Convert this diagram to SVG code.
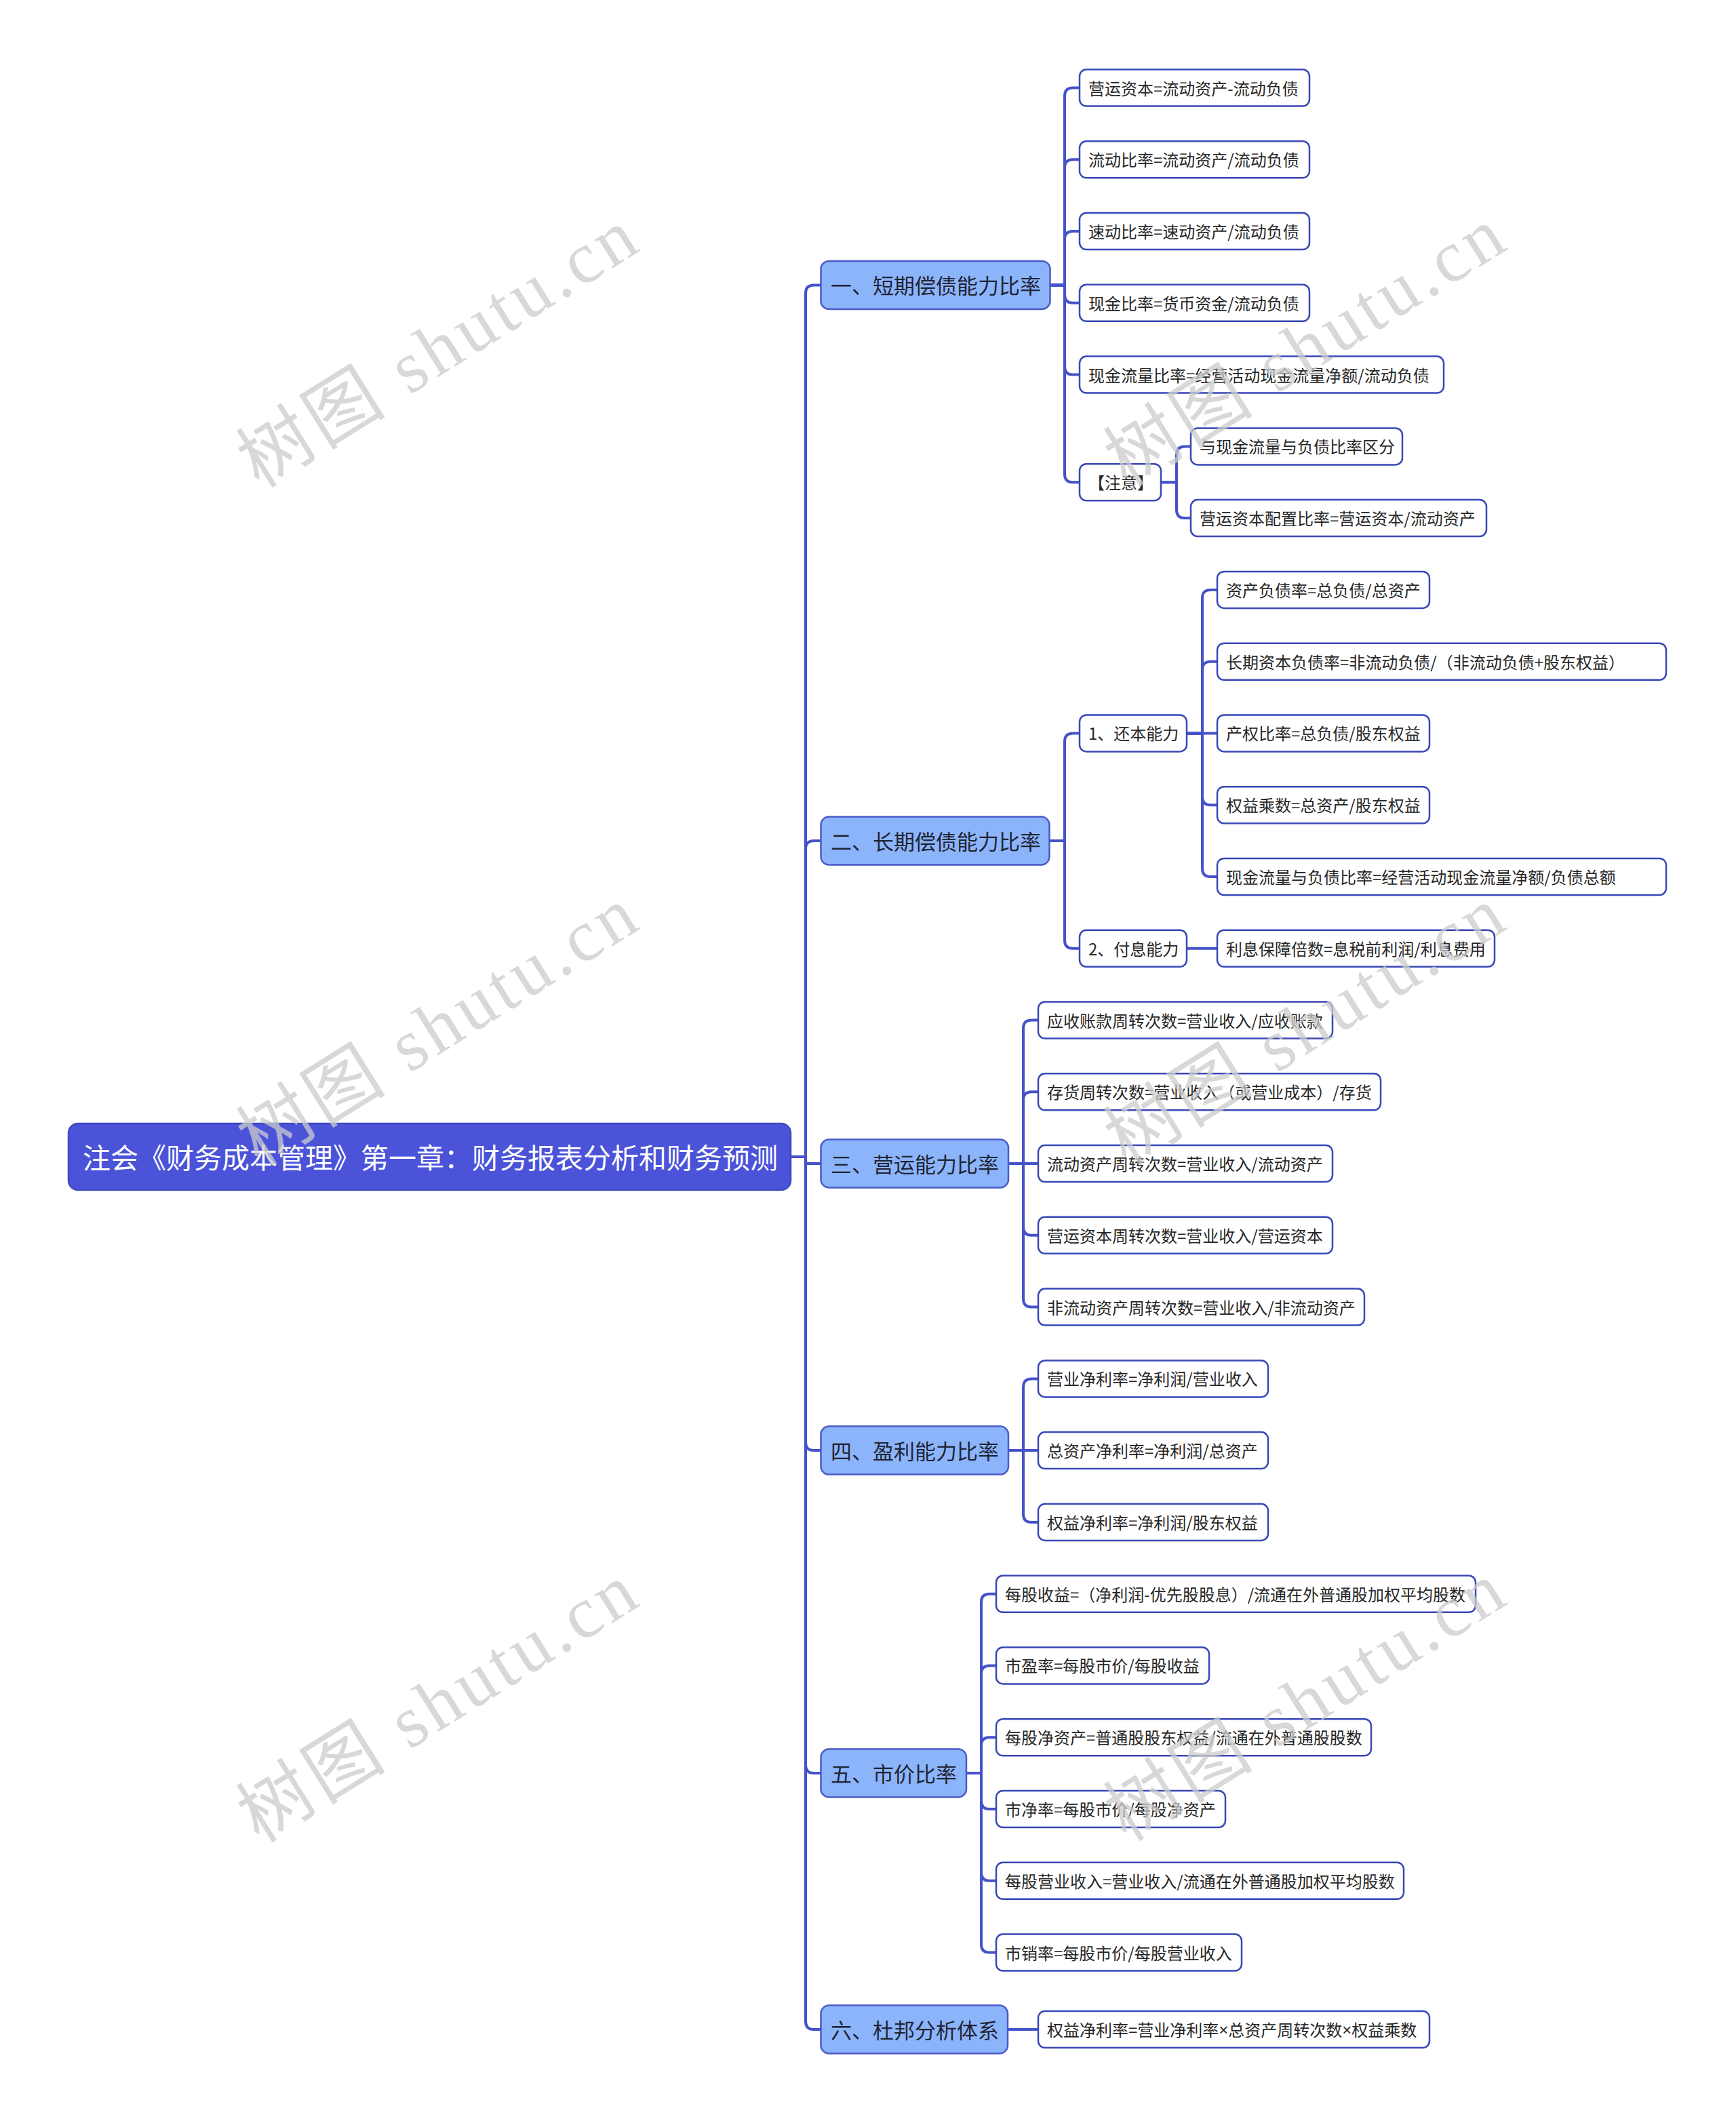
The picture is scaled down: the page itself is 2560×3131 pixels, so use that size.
<svg xmlns="http://www.w3.org/2000/svg" width="2560" height="3131" viewBox="0 0 2560 3131">
<style>
.bg{fill:#ffffff}
.ln{fill:none;stroke:#4652c9;stroke-width:4;stroke-linecap:round;stroke-linejoin:round}
.leaf rect{fill:#ffffff;stroke:#3a48b8;stroke-width:2.5}
.leaf text{font-family:"Noto Sans CJK SC","Liberation Sans",sans-serif;font-size:24px;fill:#262626;dominant-baseline:central}
.l1 rect{fill:#8cb4fb;stroke:#4a5ac8;stroke-width:2.5}
.l1 text{font-family:"Noto Sans CJK SC","Liberation Sans",sans-serif;font-size:31px;fill:#1e2433;dominant-baseline:central}
.root rect{fill:#4b54d9;stroke:#3f48c0;stroke-width:2.5}
.root text{font-family:"Noto Sans CJK SC","Liberation Sans",sans-serif;font-size:41px;fill:#ffffff;dominant-baseline:central}
.lat{font-family:"Liberation Sans",sans-serif}
.wm{font-family:"Liberation Serif","Noto Sans CJK SC",serif;font-size:108px;fill:#cccccc;opacity:0.75;text-anchor:middle;dominant-baseline:central}
</style>
<rect class="bg" x="0" y="0" width="2560" height="3131"/>
<g id="connectors">
<path class="ln" d="M1166,1706 H1188 V432.4 Q1188,420.4 1200,420.4 H1210"/>
<path class="ln" d="M1166,1706 H1188 V1252 Q1188,1240 1200,1240 H1210"/>
<path class="ln" d="M1166,1706 H1188 V1716 H1210"/>
<path class="ln" d="M1166,1706 H1188 V2127.1 Q1188,2139.1 1200,2139.1 H1210"/>
<path class="ln" d="M1166,1706 H1188 V2603 Q1188,2615 1200,2615 H1210"/>
<path class="ln" d="M1166,1706 H1188 V2981 Q1188,2993 1200,2993 H1210"/>
<path class="ln" d="M1548,420.4 H1570 V141.5 Q1570,129.5 1582,129.5 H1592"/>
<path class="ln" d="M1548,420.4 H1570 V247.3 Q1570,235.3 1582,235.3 H1592"/>
<path class="ln" d="M1548,420.4 H1570 V353 Q1570,341 1582,341 H1592"/>
<path class="ln" d="M1548,420.4 H1570 V434.8 Q1570,446.8 1582,446.8 H1592"/>
<path class="ln" d="M1548,420.4 H1570 V540.6 Q1570,552.6 1582,552.6 H1592"/>
<path class="ln" d="M1548,420.4 H1570 V699.3 Q1570,711.3 1582,711.3 H1592"/>
<path class="ln" d="M1712,711.3 H1735 V670.4 Q1735,658.4 1747,658.4 H1756"/>
<path class="ln" d="M1712,711.3 H1735 V752.1 Q1735,764.1 1747,764.1 H1756"/>
<path class="ln" d="M1547,1240 H1570 V1093.4 Q1570,1081.4 1582,1081.4 H1592"/>
<path class="ln" d="M1547,1240 H1570 V1386.7 Q1570,1398.7 1582,1398.7 H1592"/>
<path class="ln" d="M1750,1081.4 H1773 V881.9 Q1773,869.9 1785,869.9 H1795"/>
<path class="ln" d="M1750,1081.4 H1773 V987.7 Q1773,975.7 1785,975.7 H1795"/>
<path class="ln" d="M1750,1081.4 H1795"/>
<path class="ln" d="M1750,1081.4 H1773 V1175.2 Q1773,1187.2 1785,1187.2 H1795"/>
<path class="ln" d="M1750,1081.4 H1773 V1281 Q1773,1293 1785,1293 H1795"/>
<path class="ln" d="M1750,1398.7 H1795"/>
<path class="ln" d="M1487,1716 H1509 V1516.5 Q1509,1504.5 1521,1504.5 H1531"/>
<path class="ln" d="M1487,1716 H1509 V1622.3 Q1509,1610.3 1521,1610.3 H1531"/>
<path class="ln" d="M1487,1716 H1531"/>
<path class="ln" d="M1487,1716 H1509 V1809.8 Q1509,1821.8 1521,1821.8 H1531"/>
<path class="ln" d="M1487,1716 H1509 V1915.6 Q1509,1927.6 1521,1927.6 H1531"/>
<path class="ln" d="M1487,2139.1 H1509 V2045.4 Q1509,2033.4 1521,2033.4 H1531"/>
<path class="ln" d="M1487,2139.1 H1531"/>
<path class="ln" d="M1487,2139.1 H1509 V2232.9 Q1509,2244.9 1521,2244.9 H1531"/>
<path class="ln" d="M1425,2615 H1447 V2362.7 Q1447,2350.7 1459,2350.7 H1469"/>
<path class="ln" d="M1425,2615 H1447 V2468.4 Q1447,2456.4 1459,2456.4 H1469"/>
<path class="ln" d="M1425,2615 H1447 V2574.2 Q1447,2562.2 1459,2562.2 H1469"/>
<path class="ln" d="M1425,2615 H1447 V2656 Q1447,2668 1459,2668 H1469"/>
<path class="ln" d="M1425,2615 H1447 V2761.8 Q1447,2773.8 1459,2773.8 H1469"/>
<path class="ln" d="M1425,2615 H1447 V2867.5 Q1447,2879.5 1459,2879.5 H1469"/>
<path class="ln" d="M1486,2993 H1531"/>
</g>
<g id="root" class="root"><rect x="101" y="1657" width="1065" height="98" rx="14"/><text x="122" y="1705">注会《财务成本管理》第一章：财务报表分析和财务预测</text></g>
<g id="n1" class="l1"><rect x="1210.5" y="384.9" width="338" height="71" rx="12"/><text x="1225" y="419.4">一、短期偿债能力比率</text></g>
<g id="n2" class="l1"><rect x="1210.5" y="1204.5" width="337" height="71" rx="12"/><text x="1225" y="1239">二、长期偿债能力比率</text></g>
<g id="n3" class="l1"><rect x="1210.5" y="1680.5" width="276.5" height="71" rx="12"/><text x="1225" y="1715">三、营运能力比率</text></g>
<g id="n4" class="l1"><rect x="1210.5" y="2103.6" width="276.5" height="71" rx="12"/><text x="1225" y="2138.1">四、盈利能力比率</text></g>
<g id="n5" class="l1"><rect x="1210.5" y="2579.5" width="214.5" height="71" rx="12"/><text x="1225" y="2614">五、市价比率</text></g>
<g id="n6" class="l1"><rect x="1210.5" y="2957.5" width="275.5" height="71" rx="12"/><text x="1225" y="2992">六、杜邦分析体系</text></g>
<g id="r0" class="leaf"><rect x="1592" y="102.5" width="339" height="54" rx="10"/><text x="1605" y="129">营运资本=流动资产-流动负债</text></g>
<g id="r1" class="leaf"><rect x="1592" y="208.3" width="339" height="54" rx="10"/><text x="1605" y="234.8">流动比率=流动资产/流动负债</text></g>
<g id="r2" class="leaf"><rect x="1592" y="314" width="339" height="54" rx="10"/><text x="1605" y="340.5">速动比率=速动资产/流动负债</text></g>
<g id="r3" class="leaf"><rect x="1592" y="419.8" width="339" height="54" rx="10"/><text x="1605" y="446.3">现金比率=货币资金/流动负债</text></g>
<g id="r4" class="leaf"><rect x="1592" y="525.6" width="537" height="54" rx="10"/><text x="1605" y="552.1">现金流量比率=经营活动现金流量净额/流动负债</text></g>
<g id="note" class="leaf"><rect x="1592" y="684.3" width="120" height="54" rx="10"/><text x="1605" y="710.8">【注意】</text></g>
<g id="r5" class="leaf"><rect x="1756" y="631.4" width="312" height="54" rx="10"/><text x="1769" y="657.9">与现金流量与负债比率区分</text></g>
<g id="r6" class="leaf"><rect x="1756" y="737.1" width="436" height="54" rx="10"/><text x="1769" y="763.6">营运资本配置比率=营运资本/流动资产</text></g>
<g id="s1" class="leaf"><rect x="1592" y="1054.4" width="158" height="54" rx="10"/><text x="1605" y="1080.9">1、还本能力</text></g>
<g id="s2" class="leaf"><rect x="1592" y="1371.7" width="158" height="54" rx="10"/><text x="1605" y="1398.2">2、付息能力</text></g>
<g id="r7" class="leaf"><rect x="1795" y="842.9" width="313" height="54" rx="10"/><text x="1808" y="869.4">资产负债率=总负债/总资产</text></g>
<g id="r8" class="leaf"><rect x="1795" y="948.7" width="662" height="54" rx="10"/><text x="1808" y="975.2">长期资本负债率=非流动负债/（非流动负债+股东权益）</text></g>
<g id="r9" class="leaf"><rect x="1795" y="1054.4" width="313" height="54" rx="10"/><text x="1808" y="1080.9">产权比率=总负债/股东权益</text></g>
<g id="r10" class="leaf"><rect x="1795" y="1160.2" width="313" height="54" rx="10"/><text x="1808" y="1186.7">权益乘数=总资产/股东权益</text></g>
<g id="r11" class="leaf"><rect x="1795" y="1266" width="662" height="54" rx="10"/><text x="1808" y="1292.5">现金流量与负债比率=经营活动现金流量净额/负债总额</text></g>
<g id="r12" class="leaf"><rect x="1795" y="1371.7" width="409" height="54" rx="10"/><text x="1808" y="1398.2">利息保障倍数=息税前利润/利息费用</text></g>
<g id="r13" class="leaf"><rect x="1531" y="1477.5" width="434" height="54" rx="10"/><text x="1544" y="1504">应收账款周转次数=营业收入/应收账款</text></g>
<g id="r14" class="leaf"><rect x="1531" y="1583.3" width="505" height="54" rx="10"/><text x="1544" y="1609.8">存货周转次数=营业收入（或营业成本）/存货</text></g>
<g id="r15" class="leaf"><rect x="1531" y="1689.1" width="434" height="54" rx="10"/><text x="1544" y="1715.6">流动资产周转次数=营业收入/流动资产</text></g>
<g id="r16" class="leaf"><rect x="1531" y="1794.8" width="434" height="54" rx="10"/><text x="1544" y="1821.3">营运资本周转次数=营业收入/营运资本</text></g>
<g id="r17" class="leaf"><rect x="1531" y="1900.6" width="481" height="54" rx="10"/><text x="1544" y="1927.1">非流动资产周转次数=营业收入/非流动资产</text></g>
<g id="r18" class="leaf"><rect x="1531" y="2006.4" width="339" height="54" rx="10"/><text x="1544" y="2032.9">营业净利率=净利润/营业收入</text></g>
<g id="r19" class="leaf"><rect x="1531" y="2112.1" width="339" height="54" rx="10"/><text x="1544" y="2138.6">总资产净利率=净利润/总资产</text></g>
<g id="r20" class="leaf"><rect x="1531" y="2217.9" width="339" height="54" rx="10"/><text x="1544" y="2244.4">权益净利率=净利润/股东权益</text></g>
<g id="r21" class="leaf"><rect x="1469" y="2323.7" width="707" height="54" rx="10"/><text x="1482" y="2350.2">每股收益=（净利润-优先股股息）/流通在外普通股加权平均股数</text></g>
<g id="r22" class="leaf"><rect x="1469" y="2429.4" width="314" height="54" rx="10"/><text x="1482" y="2455.9">市盈率=每股市价/每股收益</text></g>
<g id="r23" class="leaf"><rect x="1469" y="2535.2" width="553" height="54" rx="10"/><text x="1482" y="2561.7">每股净资产=普通股股东权益/流通在外普通股股数</text></g>
<g id="r24" class="leaf"><rect x="1469" y="2641" width="338" height="54" rx="10"/><text x="1482" y="2667.5">市净率=每股市价/每股净资产</text></g>
<g id="r25" class="leaf"><rect x="1469" y="2746.8" width="601" height="54" rx="10"/><text x="1482" y="2773.3">每股营业收入=营业收入/流通在外普通股加权平均股数</text></g>
<g id="r26" class="leaf"><rect x="1469" y="2852.5" width="362" height="54" rx="10"/><text x="1482" y="2879">市销率=每股市价/每股营业收入</text></g>
<g id="r27" class="leaf"><rect x="1531" y="2966" width="577" height="54" rx="10"/><text x="1544" y="2992.5">权益净利率=营业净利率<tspan class="lat">×</tspan>总资产周转次数<tspan class="lat">×</tspan>权益乘数</text></g>
<g id="watermarks">
<text class="wm" x="645" y="514" transform="rotate(-32 645 514)" textLength="665" lengthAdjust="spacing">树图 shutu.cn</text>
<text class="wm" x="645" y="1514" transform="rotate(-32 645 1514)" textLength="665" lengthAdjust="spacing">树图 shutu.cn</text>
<text class="wm" x="645" y="2512" transform="rotate(-32 645 2512)" textLength="665" lengthAdjust="spacing">树图 shutu.cn</text>
<text class="wm" x="1924" y="512" transform="rotate(-32 1924 512)" textLength="665" lengthAdjust="spacing">树图 shutu.cn</text>
<text class="wm" x="1924" y="1514" transform="rotate(-32 1924 1514)" textLength="665" lengthAdjust="spacing">树图 shutu.cn</text>
<text class="wm" x="1924" y="2510" transform="rotate(-32 1924 2510)" textLength="665" lengthAdjust="spacing">树图 shutu.cn</text>
</g>
</svg>
